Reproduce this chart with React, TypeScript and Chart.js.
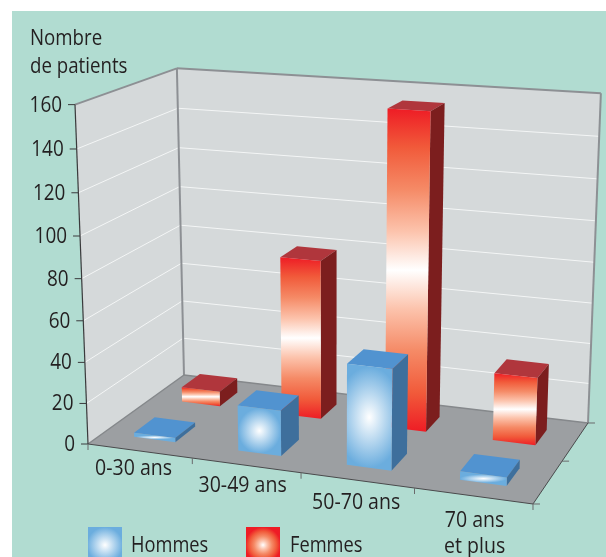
import { useEffect, useRef } from "react";
import { Chart, registerables } from "chart.js";

Chart.register(...registerables);

const categories: (string | string[])[] = ["0-30 ans", "30-49 ans", "50-70 ans", ["70 ans", "et plus"]];
const hommes = [2, 22, 48, 4];
const femmes = [7.5, 79, 154, 33];
const yTitle = ["Nombre", "de patients"];

// Camera of the 3D box: U along the front edge, W in depth, H up (all 0..1)
const CAM = { a: 401.59, b: 116.71, c: -16.75, d: 88, e: 18.95, f: -26.79, g: -344.6, i: 444, j: -0.08144, k: 0.11257, l: -0.05 };
const project = (U: number, W: number, H: number): [number, number] => {
  const den = 1 + CAM.j * U + CAM.k * W + CAM.l * H;
  return [(CAM.a * U + CAM.b * W + CAM.c * H + CAM.d) / den, (CAM.e * U + CAM.f * W + CAM.g * H + CAM.i) / den];
};
const DEPTHS: [number, number][] = [[0.15, 0.36], [0.645, 0.85]];
const FONT = "21px 'Open Sans', sans-serif";
const INK = "#231f20";
const RED = "#ee1c25";
const BLUE = "#6badde";
const RED_STOPS: [number, string][] = [[0, "#ffffff"], [0.24, "#fcc3ac"], [0.5, "#f58a66"], [0.76, "#f15a3a"], [1, RED]];

const poly = (ctx: CanvasRenderingContext2D, pts: [number, number][]) => {
  ctx.beginPath();
  pts.forEach((p, n) => (n ? ctx.lineTo(p[0], p[1]) : ctx.moveTo(p[0], p[1])));
  ctx.closePath();
};
const line = (ctx: CanvasRenderingContext2D, a: [number, number], b: [number, number], color: string, w: number) => {
  ctx.strokeStyle = color;
  ctx.lineWidth = w;
  ctx.beginPath();
  ctx.moveTo(a[0], a[1]);
  ctx.lineTo(b[0], b[1]);
  ctx.stroke();
};
const text = (ctx: CanvasRenderingContext2D, s: string, x: number, y: number, squeeze = 0.89) => {
  ctx.fillText(s, x, y, ctx.measureText(s).width * squeeze);
};
const radial = (ctx: CanvasRenderingContext2D, cx: number, cy: number, sx: number, sy: number, red: boolean, r: number) => {
  ctx.translate(cx, cy);
  ctx.scale(sx, sy);
  const g = ctx.createRadialGradient(0, 0, 0, 0, 0, r);
  if (red) RED_STOPS.forEach(([o, c]) => g.addColorStop(o, c));
  else {
    g.addColorStop(0, "#ffffff");
    g.addColorStop(1, BLUE);
  }
  ctx.fillStyle = g;
  ctx.fillRect(-4, -4, 8, 8);
};

const box3d = {
  id: "box3d",
  beforeDraw(chart: any) {
    const { ctx, width, height } = chart;
    ctx.save();
    ctx.fillStyle = "#ffffff";
    ctx.fillRect(0, 0, width, height);
    ctx.fillStyle = "#b1dcd1";
    ctx.fillRect(12, 11, width - 12, height - 11);

    ctx.fillStyle = "#d5d9da";
    poly(ctx, [project(0, 0, 0), project(0, 1, 0), project(0, 1, 1), project(0, 0, 1)]);
    ctx.fill();
    poly(ctx, [project(0, 1, 0), project(1, 1, 0), project(1, 1, 1), project(0, 1, 1)]);
    ctx.fill();
    ctx.fillStyle = "#9c9fa2";
    poly(ctx, [project(0, 0, 0), project(1, 0, 0), project(1, 1, 0), project(0, 1, 0)]);
    ctx.fill();

    const ys = chart.scales.y;
    ys.ticks.forEach((t: any) => {
      if (t.value === ys.min || t.value === ys.max) return;
      const H = t.value / ys.max;
      line(ctx, project(0, 0, H), project(0, 1, H), "#f4f6f6", 1);
      line(ctx, project(0, 1, H), project(1, 1, H), "#f4f6f6", 1);
    });

    const grey = "#8d9094";
    line(ctx, project(0, 0, 1), project(0, 1, 1), grey, 2);
    line(ctx, project(0, 1, 1), project(1, 1, 1), grey, 2);
    line(ctx, project(0, 1, 0), project(0, 1, 1), grey, 2);
    line(ctx, project(1, 1, 0), project(1, 1, 1), grey, 2);
    line(ctx, project(0, 1, 0), project(1, 1, 0), "#85888b", 1.5);
    line(ctx, project(0, 0, 0), project(0, 1, 0), "#85888b", 1.5);
    ctx.restore();
  },
  beforeDatasetDraw(chart: any, args: any) {
    const { ctx, chartArea } = chart;
    const di: number = args.index;
    const [w0, w1] = DEPTHS[di];
    const meta = chart.getDatasetMeta(di);
    ctx.save();
    meta.data.forEach((el: any) => {
      const U0 = (el.x - el.width / 2 - chartArea.left) / chartArea.width;
      const U1 = (el.x + el.width / 2 - chartArea.left) / chartArea.width;
      const H = (chartArea.bottom - el.y) / chartArea.height;
      const isRed = di === 1;
      const topCol = isRed ? "#b0363c" : "#5193d0";
      const sideCol = isRed ? "#7c1e1e" : "#3e6f9c";

      ctx.fillStyle = topCol;
      poly(ctx, [project(U0, w0, H), project(U1, w0, H), project(U1, w1, H), project(U0, w1, H)]);
      ctx.fill();
      ctx.fillStyle = sideCol;
      poly(ctx, [project(U1, w0, 0), project(U1, w1, 0), project(U1, w1, H), project(U1, w0, H)]);
      ctx.fill();

      const bl = project(U0, w0, 0), br = project(U1, w0, 0), tr = project(U1, w0, H), tl = project(U0, w0, H);
      ctx.save();
      poly(ctx, [bl, br, tr, tl]);
      ctx.clip();
      if (isRed) {
        const g = ctx.createLinearGradient(0, tl[1], 0, br[1]);
        [...RED_STOPS].reverse().forEach(([o, c]) => g.addColorStop((1 - o) / 2, c));
        RED_STOPS.forEach(([o, c]) => g.addColorStop((1 + o) / 2, c));
        ctx.fillStyle = g;
        ctx.fillRect(tl[0] - 5, tl[1] - 10, tr[0] - tl[0] + 10, br[1] - tl[1] + 20);
      } else {
        const cx = (tl[0] + br[0]) / 2, cy = (tl[1] + br[1]) / 2;
        const fh = bl[1] - tl[1];
        radial(ctx, cx, cy, Math.max((br[0] - bl[0]) / 2, fh * 0.33), fh / 2, false, 1);
      }
      ctx.restore();
    });
    ctx.restore();
    return false;
  },
  afterDraw(chart: any) {
    const { ctx } = chart;
    const xs = chart.scales.x, ys = chart.scales.y;
    ctx.save();
    ctx.font = FONT;
    ctx.fillStyle = INK;

    // title of the value axis
    ctx.textAlign = "left";
    ctx.textBaseline = "alphabetic";
    yTitle.forEach((s, n) => text(ctx, s, 30, 45 + n * 28));

    // value axis
    line(ctx, project(0, 0, 0), project(0, 0, 1), "#3a3a3c", 1.2);
    ctx.textAlign = "right";
    ctx.textBaseline = "middle";
    ys.ticks.forEach((t: any) => {
      const p = project(0, 0, t.value / ys.max);
      line(ctx, [p[0] - 7, p[1]], p, "#3a3a3c", 1);
      ctx.fillStyle = INK;
      text(ctx, String(t.value), p[0] - 13, p[1] + 1, 0.9);
    });

    // category axis
    line(ctx, project(0, 0, 0), project(1, 0, 0), "#4a4a4c", 1);
    line(ctx, project(1, 0, 0), project(1, 1, 0), "#4a4a4c", 1);
    const n = xs.ticks.length;
    for (let q = 0; q <= n; q++) {
      const p = project(q / n, 0, 0);
      line(ctx, p, [p[0], p[1] + 6], "#6a6a6c", 1);
    }
    [0, 0.5, 1].forEach((w) => {
      const p = project(1, w, 0);
      line(ctx, p, [p[0] + 7, p[1]], "#6a6a6c", 1);
    });
    ctx.textAlign = "center";
    ctx.textBaseline = "alphabetic";
    ctx.fillStyle = INK;
    xs.ticks.forEach((t: any, q: number) => {
      const p = project((q + 0.5) / n, 0, 0);
      const lines = ([] as string[]).concat(categories[q] as any);
      lines.forEach((s, m) => {
        text(ctx, s, p[0] - 6 + 2.5 * q, p[1] + 24.5 + 2.3 * q + m * 26, 0.93);
      });
    });

    // legend
    const legendX = [88, 246], textX = [131, 290];
    chart.data.datasets.forEach((ds: any, d: number) => {
      ctx.save();
      ctx.beginPath();
      ctx.rect(legendX[d], 527, 34, 30);
      ctx.clip();
      radial(ctx, legendX[d] + 17, 545, 17, 17, d === 1, 1.05);
      ctx.restore();
      ctx.textAlign = "left";
      ctx.fillStyle = INK;
      text(ctx, ds.label, textX[d], 552, 0.87);
    });
    ctx.restore();
  },
};

export default function App() {
  const ref = useRef<HTMLCanvasElement>(null);
  useEffect(() => {
    const chart = new Chart(ref.current!, {
      type: "bar",
      data: {
        labels: categories as any,
        datasets: [
          { label: "Hommes", data: hommes, backgroundColor: BLUE, grouped: false, barPercentage: 0.4, categoryPercentage: 1 },
          { label: "Femmes", data: femmes, backgroundColor: RED, grouped: false, barPercentage: 0.385, categoryPercentage: 1 },
        ],
      },
      options: {
        responsive: false,
        animation: false,
        devicePixelRatio: 1,
        layout: { padding: { left: 88, right: 73, top: 104, bottom: 113 } },
        plugins: { legend: { display: false }, tooltip: { enabled: false } },
        scales: {
          x: { display: false },
          y: { display: false, min: 0, max: 160, ticks: { stepSize: 20 } },
        },
      },
      plugins: [box3d],
    } as any);
    return () => chart.destroy();
  }, []);
  return (
    <div style={{ position: "absolute", left: 0, top: 0, width: 606, height: 557 }}>
      <canvas ref={ref} width={606} height={557} style={{ display: "block" }} />
    </div>
  );
}
